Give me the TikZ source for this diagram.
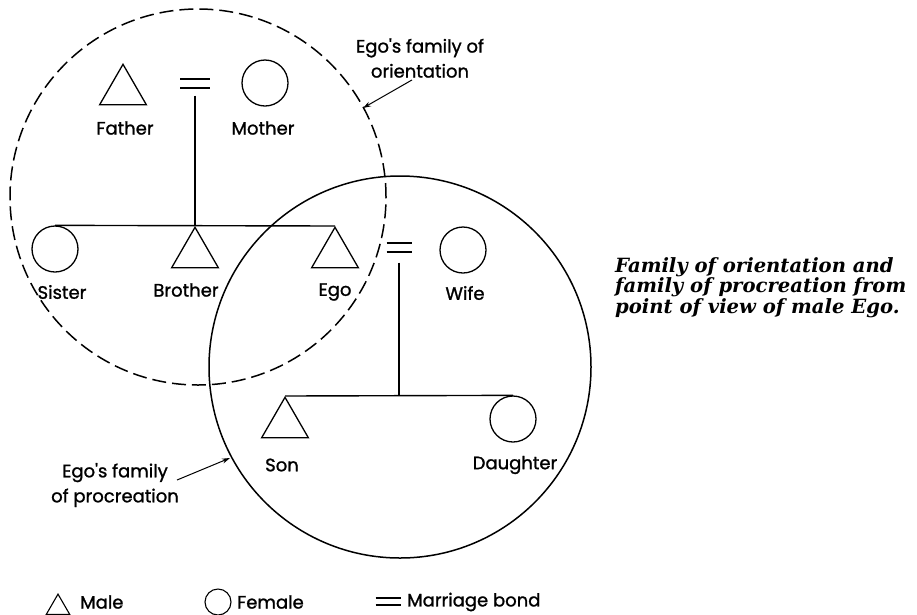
\documentclass[tikz,border=0pt]{standalone}
\usepackage{fontspec}
\setmainfont{Poppins}
\newfontfamily\lblfont{Poppins}[FakeBold=1.2]
\newfontfamily\capfont{DejaVu Serif}
\usetikzlibrary{shapes.geometric,arrows.meta}
\begin{document}
\begin{tikzpicture}[x=1pt,y=-1pt,
  male/.style={draw, regular polygon, regular polygon sides=3, minimum size=54pt, inner sep=0pt, line width=1.3pt, anchor=corner 1},
  female/.style={draw, circle, minimum size=46pt, inner sep=0pt, line width=1.3pt},
  lbl/.style={font=\lblfont\fontsize{18}{22}\selectfont, inner sep=0pt},
  kin/.style={line width=1.4pt},
  bond/.style={line width=1.4pt},
  note/.style={font=\lblfont\fontsize{18}{25}\selectfont, align=center, inner sep=0pt},
  pointer/.style={line width=1pt, -{Stealth[length=8pt,width=5pt]}},
  famcircle/.style={draw, circle, inner sep=0pt, line width=1.5pt},
]
\path[use as bounding box] (0,0) rectangle (917,614);

% family circles
\node[famcircle, minimum size=376pt, dash pattern=on 14pt off 6pt] (orient) at (198,197) {};
\node[famcircle, minimum size=382pt] (procr) at (400,367) {};

% parents
\node[male] (father) at (123,63) {};
\node[female] (mother) at (265,83) {};
\coordinate (bond1) at (195,83.5);
\draw[bond] ([shift={(-15,-4.5)}]bond1) -- ([shift={(15,-4.5)}]bond1);
\draw[bond] ([shift={(-15,4.5)}]bond1) -- ([shift={(15,4.5)}]bond1);
\node[lbl] (lfather) at (125,128) {Father};
\node[lbl] (lmother) at (263,128) {Mother};

% siblings
\node[female] (sister) at (55,249) {};
\node[male] (brother) at (195,226) {};
\node[male] (ego) at (335,226) {};
\draw[kin] ([shift={(0,12)}]bond1) -- (brother.corner 1);
\draw[kin] (sister.north) -- (ego.corner 1);
\node[lbl] (lsister) at (62,292) {Sister};
\node[lbl] (lbrother) at (186,290) {Brother};
\node[lbl] (lego) at (335,292) {Ego};

% ego's marriage
\node[female] (wife) at (463,250) {};
\coordinate (bond2) at (399,247.5);
\draw[bond] ([shift={(-12.5,-4.5)}]bond2) -- ([shift={(12.5,-4.5)}]bond2);
\draw[bond] ([shift={(-12.5,4.5)}]bond2) -- ([shift={(12.5,4.5)}]bond2);
\node[lbl] (lwife) at (465,293) {Wife};

% children
\node[male] (son) at (285,396) {};
\node[female] (daughter) at (513,419) {};
\draw[kin] ([shift={(0,15)}]bond2) -- (bond2 |- son.corner 1);
\draw[kin] (son.corner 1) -- (daughter.north);
\node[lbl] (lson) at (282,465) {Son};
\node[lbl] (ldaughter) at (515,465) {Daughter};

% annotations
\node[note] (onote) at (420,58) {Ego's family of\\orientation};
\coordinate (otip) at (363,108);
\draw[pointer] ([shift={(-8,2)}]onote.south) -- (otip);
\node[note] (pnote) at (115,485) {Ego's family\\of procreation};
\coordinate (ptip) at (230,458);
\draw[pointer] ([shift={(-2,-5)}]pnote.east) -- (ptip);

% caption
\node[anchor=north west, align=left, inner sep=0pt,
      font=\capfont\fontsize{19.6}{20.5}\selectfont\bfseries\itshape] (caption) at (615,257)
  {Family of orientation and\\family of procreation from\\point of view of male Ego.};

% legend
\node[male, minimum size=27pt, line width=1.1pt] (lmale) at (58,593) {};
\node[lbl, anchor=west] (tmale) at (80,602) {Male};
\node[female, minimum size=26pt, line width=1.1pt] (lfem) at (218,602) {};
\node[lbl, anchor=west] (tfem) at (237,602) {Female};
\coordinate (lbond) at (388,601.5);
\draw[bond] ([shift={(-12.5,-3.5)}]lbond) -- ([shift={(12.5,-3.5)}]lbond);
\draw[bond] ([shift={(-12.5,3.5)}]lbond) -- ([shift={(12.5,3.5)}]lbond);
\node[lbl, anchor=west] (tbond) at (407,602) {Marriage bond};
\end{tikzpicture}
\end{document}
